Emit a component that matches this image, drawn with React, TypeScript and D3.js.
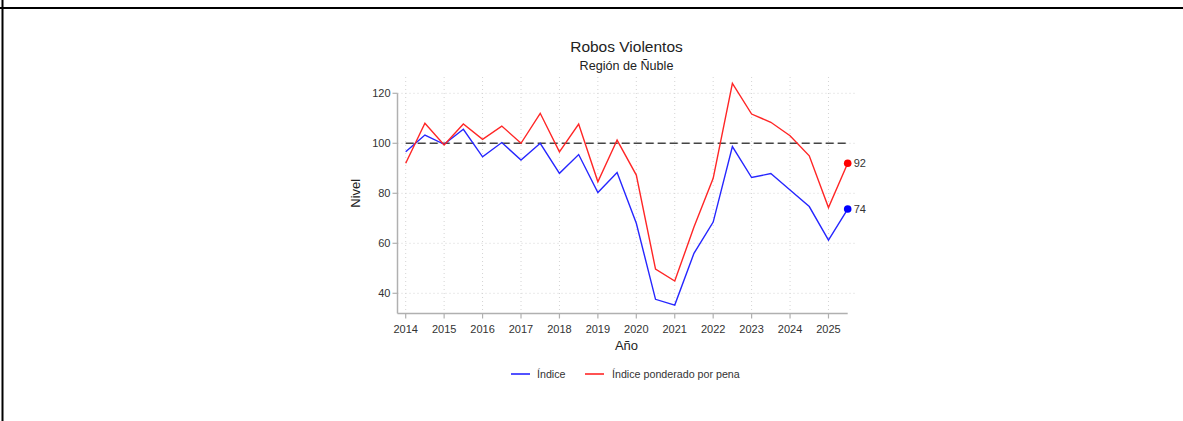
import React from "react";
import * as d3 from "d3";

const periods: number[] = [
  2014, 2014.5, 2015, 2015.5, 2016, 2016.5, 2017, 2017.5, 2018, 2018.5, 2019, 2019.5,
  2020, 2020.5, 2021, 2021.5, 2022, 2022.5, 2023, 2023.5, 2024, 2024.5, 2025, 2025.5,
];
const indice: number[] = [
  96.6, 103.3, 99.6, 105.6, 94.6, 100.3, 93.3, 100, 88, 95.5, 80.3, 88.3,
  68, 37.6, 35.3, 56, 68.5, 98.7, 86.3, 87.9, 81.3, 74.7, 61.3, 73.7,
];
const ponderado: number[] = [
  92, 108, 99.3, 107.7, 101.6, 106.9, 100, 112, 96.6, 107.7, 84.6, 101.3,
  87.3, 49.7, 44.9, 66.5, 86, 124, 111.7, 108.4, 103, 95, 74.3, 92,
];
const xTicks: number[] = [2014, 2015, 2016, 2017, 2018, 2019, 2020, 2021, 2022, 2023, 2024, 2025];
const yTicks: number[] = [40, 60, 80, 100, 120];
const legendLabels: string[] = ["Índice", "Índice ponderado por pena"];
const title = "Robos Violentos";
const subtitle = "Región de Ñuble";
const xLabel = "Año";
const yLabel = "Nivel";
const reference = 100;

const W = 1183;
const H = 421;
const FONT = "'Liberation Sans', Arial, sans-serif";

export default function App() {
  const x = d3.scaleLinear().domain([2014, 2025.5]).range([405.7, 847.7]);
  const y = d3.scaleLinear().domain([40, 120]).range([293.3, 93.3]);
  const plotLeft = 397.5;
  const plotRight = 856;
  const plotTop = 77;
  const plotBottom = 313.5;

  const line = d3
    .line<number>()
    .x((_, i) => x(periods[i]))
    .y((d) => y(d));

  const blue = "#2626ff";
  const red = "#ff2626";
  const last = periods.length - 1;

  return (
    <svg
      width={W}
      height={H}
      style={{ position: "absolute", left: 0, top: 0, background: "#fff" }}
      fontFamily={FONT}
    >
      {/* frame lines */}
      <line x1={0} x2={W} y1={8} y2={8} stroke="#000" strokeWidth={2} />
      <line x1={2.5} x2={2.5} y1={0} y2={H} stroke="#000" strokeWidth={2} />

      {/* title */}
      <text x={626.5} y={52} textAnchor="middle" fontSize={15.5} fill="#222">
        {title}
      </text>
      <text x={626.5} y={70} textAnchor="middle" fontSize={12.6} fill="#222">
        {subtitle}
      </text>

      {/* grid */}
      {yTicks.map((t) => (
        <line
          key={"gy" + t}
          x1={plotLeft}
          x2={plotRight}
          y1={y(t)}
          y2={y(t)}
          stroke="#d4d4d4"
          strokeWidth={1}
          strokeDasharray="1,3"
        />
      ))}
      {xTicks.map((t) => (
        <line
          key={"gx" + t}
          x1={x(t)}
          x2={x(t)}
          y1={plotTop}
          y2={plotBottom}
          stroke="#d4d4d4"
          strokeWidth={1}
          strokeDasharray="1,3"
        />
      ))}

      {/* axes */}
      <line x1={plotLeft} x2={plotLeft} y1={y(120)} y2={plotBottom} stroke="#b0b0b0" strokeWidth={1.5} />
      <line x1={plotLeft} x2={x(2025.5)} y1={plotBottom} y2={plotBottom} stroke="#b0b0b0" strokeWidth={1.5} />
      {yTicks.map((t) => (
        <g key={"ty" + t}>
          <line x1={plotLeft - 5} x2={plotLeft} y1={y(t)} y2={y(t)} stroke="#b0b0b0" strokeWidth={1.2} />
          <text x={plotLeft - 7} y={y(t) + 4} textAnchor="end" fontSize={11} fill="#333">
            {t}
          </text>
        </g>
      ))}
      {xTicks.map((t) => (
        <g key={"tx" + t}>
          <line x1={x(t)} x2={x(t)} y1={plotBottom} y2={plotBottom + 5} stroke="#b0b0b0" strokeWidth={1.2} />
          <text x={x(t)} y={plotBottom + 19} textAnchor="middle" fontSize={11} fill="#333">
            {t}
          </text>
        </g>
      ))}
      <text x={626.5} y={350} textAnchor="middle" fontSize={13} fill="#222">
        {xLabel}
      </text>
      <text
        transform={`translate(360, ${y(80)}) rotate(-90)`}
        textAnchor="middle"
        fontSize={13}
        fill="#222"
      >
        {yLabel}
      </text>

      {/* reference line */}
      <line
        x1={x(2014)}
        x2={x(2025.5) - 2}
        y1={y(reference)}
        y2={y(reference)}
        stroke="#444"
        strokeWidth={1.6}
        strokeDasharray="8,4"
      />

      {/* series */}
      <path d={line(indice) || ""} fill="none" stroke={blue} strokeWidth={1.4} strokeLinejoin="miter" />
      <path d={line(ponderado) || ""} fill="none" stroke={red} strokeWidth={1.4} strokeLinejoin="miter" />

      <circle cx={x(periods[last])} cy={y(ponderado[last])} r={3.8} fill="#ff0000" />
      <circle cx={x(periods[last])} cy={y(indice[last])} r={3.8} fill="#0000ff" />
      <text x={x(periods[last]) + 6} y={y(ponderado[last]) + 4} fontSize={11} fill="#333">
        {Math.round(ponderado[last])}
      </text>
      <text x={x(periods[last]) + 6} y={y(indice[last]) + 4} fontSize={11} fill="#333">
        {Math.round(indice[last])}
      </text>

      {/* legend */}
      <line x1={511} x2={530} y1={374} y2={374} stroke={blue} strokeWidth={1.6} />
      <text x={537} y={378} fontSize={10.7} fill="#333">
        {legendLabels[0]}
      </text>
      <line x1={585} x2={604} y1={374} y2={374} stroke={red} strokeWidth={1.6} />
      <text x={612} y={378} fontSize={10.7} fill="#333">
        {legendLabels[1]}
      </text>
    </svg>
  );
}
